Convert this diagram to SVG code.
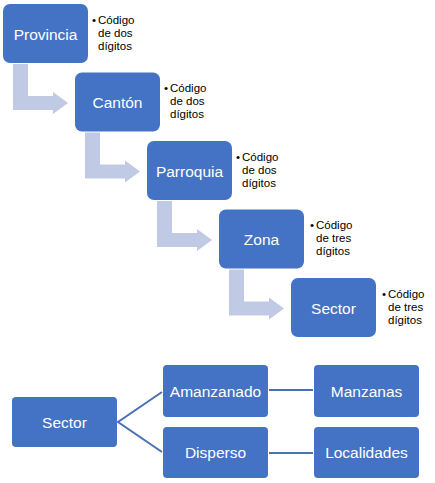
<svg xmlns="http://www.w3.org/2000/svg" width="435" height="483" viewBox="0 0 435 483">
<style>
.box{fill:#4472c4}
.lbl{fill:#fff;font-family:"Liberation Sans",Arial,sans-serif;font-size:15.5px;text-anchor:middle;dominant-baseline:central}
.bul{fill:#000;font-family:"Liberation Sans",Arial,sans-serif;font-size:11.5px}
.arr{fill:#c1cae4}
.con{stroke:#4a6fb5;stroke-width:2;fill:none}
</style>
<defs>
<path id="bent" class="arr" d="M10,60 H25 V92 H50 V88 L65,99 L50,110 V106 H10 Z"/>
</defs>
<g id="arrows">
<use href="#bent" x="3" y="4"/>
<use href="#bent" x="75" y="72.5"/>
<use href="#bent" x="147" y="141"/>
<use href="#bent" x="219" y="209.5"/>
</g>
<g id="provincia">
<rect class="box" x="3" y="4" width="85" height="59" rx="7"/>
<text class="lbl" x="45.5" y="34">Provincia</text>
<text class="bul"><tspan x="92" y="23.5">•</tspan><tspan x="98" y="23.5">Código</tspan><tspan x="98" y="36.5">de dos</tspan><tspan x="98" y="49.5">dígitos</tspan></text>
</g>
<g id="canton">
<rect class="box" x="75" y="72.5" width="85" height="59" rx="7"/>
<text class="lbl" x="117.5" y="102.5">Cantón</text>
<text class="bul"><tspan x="164" y="92">•</tspan><tspan x="170" y="92">Código</tspan><tspan x="170" y="105">de dos</tspan><tspan x="170" y="118">dígitos</tspan></text>
</g>
<g id="parroquia">
<rect class="box" x="147" y="141" width="85" height="59" rx="7"/>
<text class="lbl" x="189.5" y="171">Parroquia</text>
<text class="bul"><tspan x="236" y="160.5">•</tspan><tspan x="242" y="160.5">Código</tspan><tspan x="242" y="173.5">de dos</tspan><tspan x="242" y="186.5">dígitos</tspan></text>
</g>
<g id="zona">
<rect class="box" x="219" y="209.5" width="85" height="59" rx="7"/>
<text class="lbl" x="261.5" y="239.5">Zona</text>
<text class="bul"><tspan x="310" y="229">•</tspan><tspan x="316" y="229">Código</tspan><tspan x="316" y="242">de tres</tspan><tspan x="316" y="255">dígitos</tspan></text>
</g>
<g id="sector1">
<rect class="box" x="291" y="278" width="85" height="59" rx="7"/>
<text class="lbl" x="333.5" y="308">Sector</text>
<text class="bul"><tspan x="382" y="297.5">•</tspan><tspan x="388" y="297.5">Código</tspan><tspan x="388" y="310.5">de tres</tspan><tspan x="388" y="323.5">dígitos</tspan></text>
</g>
<g id="connectors">
<path class="con" d="M162,392 L118,422 L162,452"/>
<line class="con" x1="269" y1="390" x2="313" y2="390"/>
<line class="con" x1="269" y1="453" x2="313" y2="453"/>
</g>
<g id="sector2">
<rect class="box" x="12" y="397" width="105" height="50" rx="4"/>
<text class="lbl" x="64.5" y="422">Sector</text>
</g>
<g id="amanzanado">
<rect class="box" x="163" y="365" width="105" height="52" rx="4"/>
<text class="lbl" x="215.5" y="391">Amanzanado</text>
</g>
<g id="disperso">
<rect class="box" x="163" y="427" width="105" height="51" rx="4"/>
<text class="lbl" x="215.5" y="452.5">Disperso</text>
</g>
<g id="manzanas">
<rect class="box" x="314" y="365" width="105" height="52" rx="4"/>
<text class="lbl" x="366.5" y="391">Manzanas</text>
</g>
<g id="localidades">
<rect class="box" x="314" y="427" width="105" height="51" rx="4"/>
<text class="lbl" x="366.5" y="452.5">Localidades</text>
</g>
</svg>
